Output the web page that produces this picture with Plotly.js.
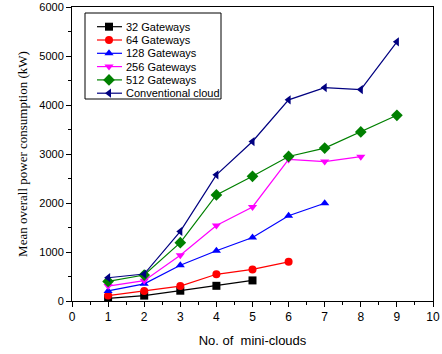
<!DOCTYPE html>
<html><head><meta charset="utf-8">
<script src="https://cdn.plot.ly/plotly-3.0.1.min.js"></script>
<style>html,body{margin:0;padding:0;background:#fff}</style>
</head><body>
<div id="chart" style="width:442px;height:354px"></div>
<script>
const seriesNames = ["32 Gateways","64 Gateways","128 Gateways","256 Gateways","512 Gateways","Conventional cloud"];
const x32 = [1,2,3,4,5];
const y32 = [55,110,210,310,420];
const x64 = [1,2,3,4,5,6];
const y64 = [110,205,305,545,645,800];
const x128 = [1,2,3,4,5,6,7];
const y128 = [205,350,730,1025,1295,1740,1995];
const x256 = [1,2,3,4,5,6,7,8];
const y256 = [305,415,935,1540,1920,2890,2845,2945];
const x512 = [1,2,3,4,5,6,7,8,9];
const y512 = [400,530,1190,2165,2545,2950,3120,3450,3790];
const xConv = [1,2,3,4,5,6,7,8,9];
const yConv = [475,550,1420,2575,3255,4105,4355,4315,5290];
const colors = ["#000000","#ff0000","#0000ff","#ff00ff","#008000","#000080"];
const symbols = ["square","circle","triangle-up","triangle-down","diamond","triangle-left"];
const xs = [x32,x64,x128,x256,x512,xConv];
const ys = [y32,y64,y128,y256,y512,yConv];
const msize = s => s==="diamond"?9:8;
const data = xs.map((x,i)=>({
  x:x, y:ys[i], name:seriesNames[i], type:"scatter", mode:"lines+markers",
  line:{color:colors[i], width:1.2}, showlegend:false,
  marker:{color:colors[i], symbol:symbols[i], size:msize(symbols[i])}
}));
// Compact legend drawn on an overlay axis measured in pixels
const annotations = [];
const shapes = [{type:"rect", xref:"x2", yref:"y2", x0:85, x1:221, y0:13, y1:99,
  line:{color:"#000", width:1}, fillcolor:"rgba(255,255,255,0)"}];
seriesNames.forEach((n,i)=>{
  const yy = 26.7 + i*13.3;
  data.push({x:[97,109,122], y:[yy,yy,yy], xaxis:"x2", yaxis:"y2", type:"scatter",
    mode:"lines", line:{color:colors[i], width:1.2}, showlegend:false, hoverinfo:"skip"});
  data.push({x:[109], y:[yy], xaxis:"x2", yaxis:"y2", type:"scatter", mode:"markers",
    marker:{color:colors[i], symbol:symbols[i], size:msize(symbols[i])}, showlegend:false, hoverinfo:"skip"});
  annotations.push({xref:"x2", yref:"y2", x:124, y:yy, text:n, showarrow:false,
    xanchor:"left", yanchor:"middle", font:{size:11, color:"#000"}});
});
const layout = {
  width:442, height:354,
  margin:{l:72, r:9, t:7, b:53},
  paper_bgcolor:"#fff", plot_bgcolor:"#fff",
  font:{family:"Arial, Liberation Sans, sans-serif", size:11, color:"#000"},
  showlegend:false,
  annotations:annotations, shapes:shapes,
  xaxis:{range:[0,10], dtick:1, showgrid:false, zeroline:false, showline:true, linecolor:"#000", linewidth:1,
    mirror:true, ticks:"outside", ticklen:5, tickcolor:"#000", tickfont:{size:12},
    minor:{dtick:0.5, ticks:"outside", ticklen:3, tickcolor:"#000"},
    title:{text:"No. of  mini-clouds", font:{size:13, family:"Arial, Liberation Sans, sans-serif"}, standoff:12}},
  yaxis:{range:[0,6000], dtick:1000, showgrid:false, zeroline:false, showline:true, linecolor:"#000", linewidth:1,
    mirror:true, ticks:"outside", ticklen:5, tickcolor:"#000", tickfont:{size:11},
    minor:{dtick:500, ticks:"outside", ticklen:3, tickcolor:"#000"},
    title:{text:"Mean overall power consumption (kW)", font:{size:13, family:"Times New Roman, Liberation Serif, serif"}, standoff:8}},
  xaxis2:{overlaying:"x", range:[72,433], visible:false, fixedrange:true},
  yaxis2:{overlaying:"y", range:[301,7], visible:false, fixedrange:true}
};
Plotly.newPlot("chart", data, layout, {displayModeBar:false, staticPlot:true});
</script>
</body></html>
